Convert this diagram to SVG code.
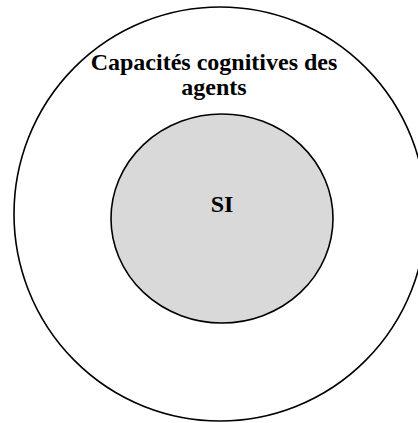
<svg xmlns="http://www.w3.org/2000/svg" width="418" height="423" viewBox="0 0 418 423">
<style>
.ring{stroke:#000;stroke-width:1.6}
.lbl{font-family:"Liberation Serif","Times New Roman",serif;font-weight:bold;font-size:24px;fill:#000;text-anchor:middle}
</style>
<rect width="418" height="423" fill="#fff"/>
<g id="outer">
<ellipse class="ring" cx="220" cy="214" rx="206" ry="207" fill="#fff"/>
<text class="lbl" x="214" y="70">Capacités cognitives des</text>
<text class="lbl" x="214" y="95">agents</text>
</g>
<g id="si">
<ellipse class="ring" cx="222" cy="218.5" rx="111" ry="104.5" fill="#d9d9d9"/>
<text class="lbl" x="222" y="212">SI</text>
</g>
<g id="connectors"></g>
</svg>
